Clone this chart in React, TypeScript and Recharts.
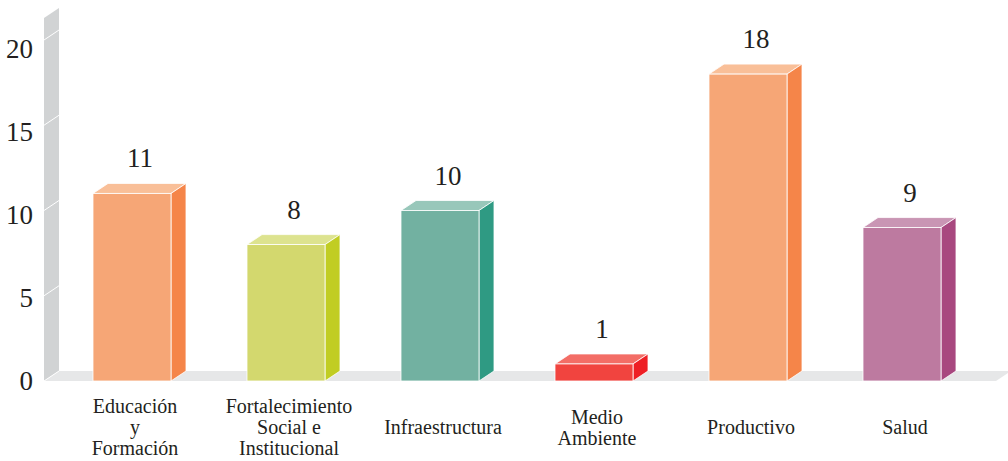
import React from 'react';
import { BarChart, Bar, XAxis, YAxis, Cell, LabelList, ReferenceArea } from 'recharts';

const categories = [
  'Educación y Formación',
  'Fortalecimiento Social e Institucional',
  'Infraestructura',
  'Medio Ambiente',
  'Productivo',
  'Salud',
];
const tickLabels = [
  ['Educación', 'y', 'Formación'],
  ['Fortalecimiento', 'Social e', 'Institucional'],
  ['Infraestructura'],
  ['Medio', 'Ambiente'],
  ['Productivo'],
  ['Salud'],
];
const values = [11, 8, 10, 1, 18, 9];
const yTicks = [0, 5, 10, 15, 20];

const FRONT = ['#f6a676', '#d3d86e', '#72b1a1', '#f1443f', '#f6a676', '#bd7aa0'];
const SIDE = ['#f58549', '#c1cd23', '#2f9a83', '#ee1f25', '#f58549', '#a8487f'];
const TOP = ['#f9bf98', '#dde38f', '#98c7ba', '#f36d66', '#f9bf98', '#c995b4'];

const data = categories.map((c, i) => ({ name: c, value: values[i] }));

const FONT = "'Liberation Serif', 'Times New Roman', serif";
const TEXT = '#231f20';
const DX = 15;
const DY = 10;

function WallFloor(p: any) {
  const { x, y, width, height } = p;
  const bottom = y + height;
  const fl = x - 11;
  const top = y - 22;
  const fr = x + width + 17;
  return (
    <g>
      <polygon
        points={`${fl},${bottom} ${fl},${top} ${fl + DX},${top - DY} ${fl + DX},${bottom - DY}`}
        fill="#d1d3d4"
      />
      <polygon
        points={`${fl},${bottom} ${fr},${bottom} ${fr + DX},${bottom - DY} ${fl + DX},${bottom - DY}`}
        fill="#e6e7e8"
      />
    </g>
  );
}

function Bar3D(p: any) {
  const { x, y, width, height, index } = p;
  if (height == null || width == null) return null;
  const i = index ?? 0;
  const stroke = '#ffffff';
  return (
    <g>
      <polygon
        points={`${x},${y} ${x + DX},${y - DY} ${x + width + DX},${y - DY} ${x + width},${y}`}
        fill={TOP[i]}
        stroke={stroke}
        strokeWidth={0.8}
      />
      <polygon
        points={`${x + width},${y} ${x + width + DX},${y - DY} ${x + width + DX},${y + height - DY} ${x + width},${y + height}`}
        fill={SIDE[i]}
        stroke={stroke}
        strokeWidth={0.8}
      />
      <rect x={x} y={y} width={width} height={height} fill={FRONT[i]} stroke={stroke} strokeWidth={0.8} />
    </g>
  );
}

function YTick(p: any) {
  const { y, payload } = p;
  const wallFront = 44;
  return (
    <g>
      <line x1={wallFront} y1={y} x2={wallFront + DX} y2={y - DY} stroke="#ffffff" strokeWidth={1} />
      <text
        x={33}
        y={y * 0.9736 + 19.1}
        textAnchor="end"
        fontFamily={FONT}
        fontSize={27}
        fill={TEXT}
      >
        {payload.value}
      </text>
    </g>
  );
}

function XTick(p: any) {
  const { x, y, payload } = p;
  const idx = categories.indexOf(payload.value);
  const lines = tickLabels[idx] || [String(payload.value)];
  const lh = 21;
  const center = y + 38;
  const start = center - ((lines.length - 1) * lh) / 2;
  return (
    <g>
      {lines.map((l, k) => (
        <text
          key={k}
          x={x + 3}
          y={start + k * lh}
          textAnchor="middle"
          dominantBaseline="central"
          fontFamily={FONT}
          fontSize={20}
          fill={TEXT}
        >
          {l}
        </text>
      ))}
    </g>
  );
}

function ValueLabel(p: any) {
  const { x, y, width, value } = p;
  return (
    <text
      x={x + width / 2 + 8}
      y={y - 26}
      textAnchor="middle"
      fontFamily={FONT}
      fontSize={27}
      fill={TEXT}
    >
      {value}
    </text>
  );
}

export default function App() {
  return (
    <div style={{ position: 'absolute', left: 0, top: 0, background: '#fff' }}>
      <BarChart
        width={1008}
        height={461}
        data={data}
        margin={{ top: 40, right: 29, bottom: 0, left: 0 }}
        barSize={78}
      >
        <ReferenceArea y1={0} y2={20} ifOverflow="visible" shape={WallFloor} />
        <XAxis
          dataKey="name"
          height={80}
          axisLine={false}
          tickLine={false}
          interval={0}
          tick={<XTick />}
        />
        <YAxis
          width={55}
          domain={[0, 20]}
          ticks={yTicks}
          axisLine={false}
          tickLine={false}
          tick={<YTick />}
        />
        <Bar dataKey="value" shape={<Bar3D />} isAnimationActive={false}>
          {data.map((d, i) => (
            <Cell key={d.name} fill={FRONT[i]} />
          ))}
          <LabelList dataKey="value" content={<ValueLabel />} />
        </Bar>
      </BarChart>
    </div>
  );
}
